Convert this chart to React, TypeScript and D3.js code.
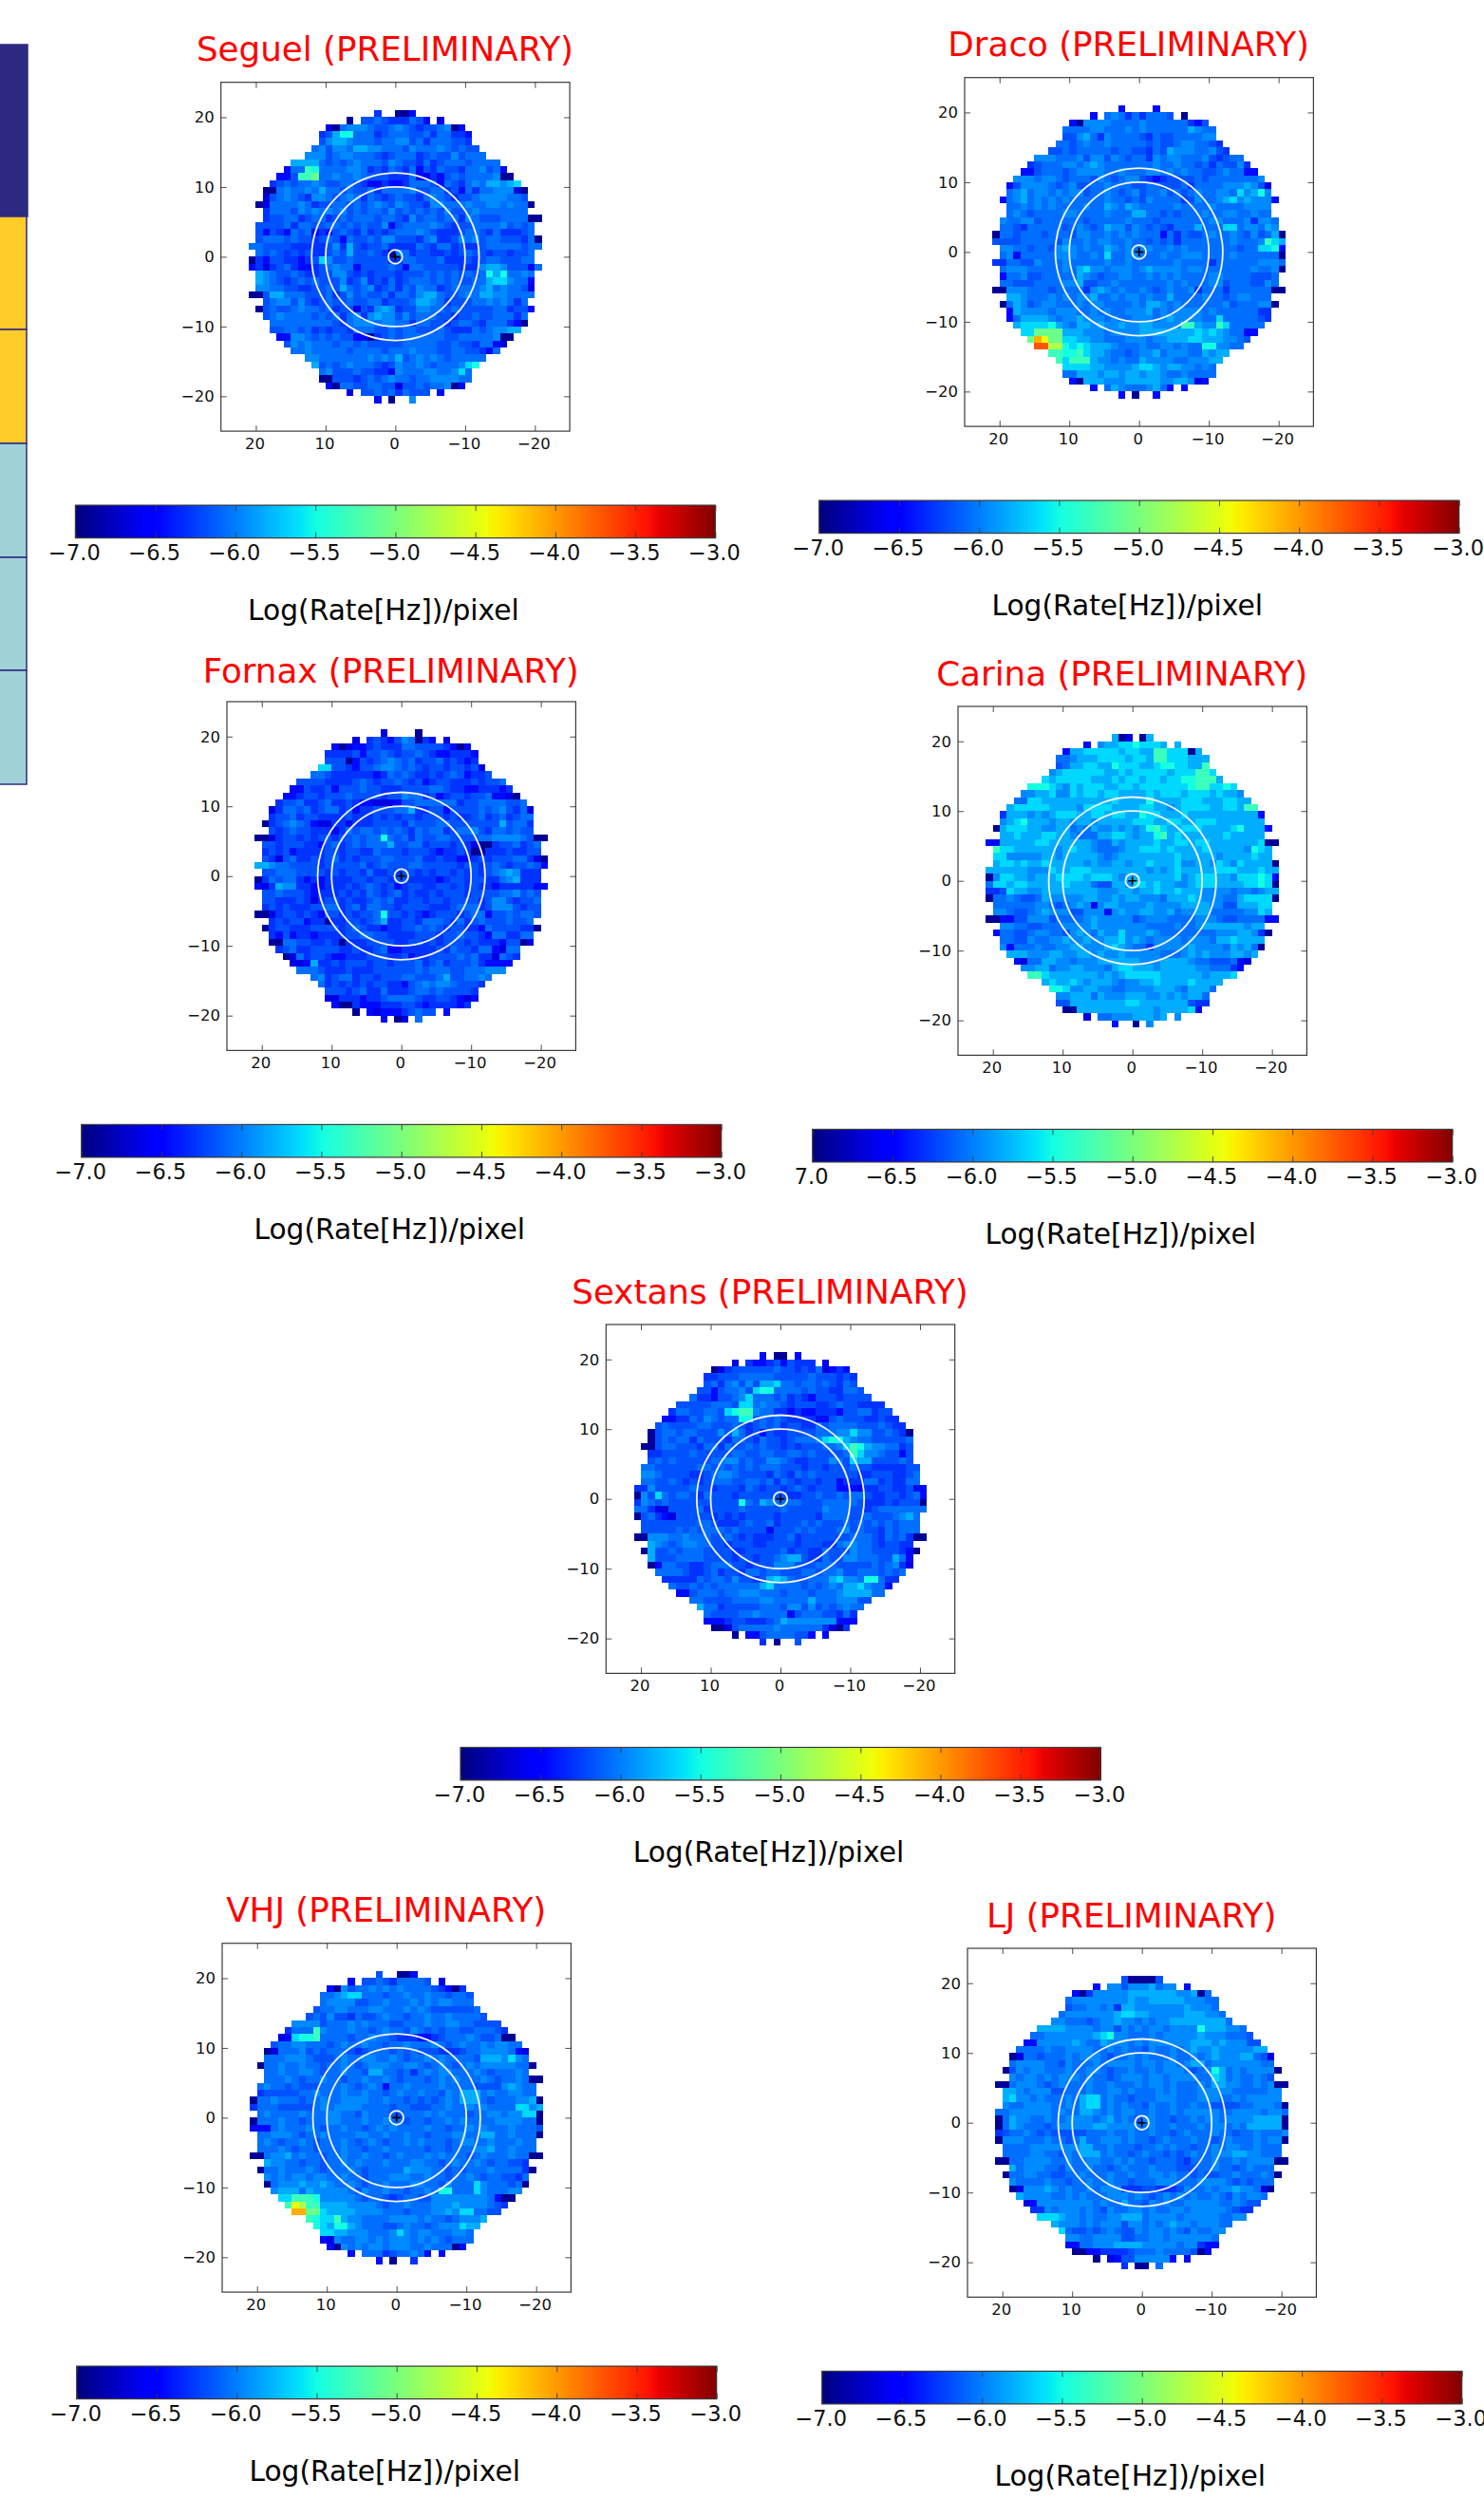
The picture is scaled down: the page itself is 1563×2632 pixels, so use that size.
import { useEffect, useRef } from 'react';
import * as d3 from 'd3';

// cell levels, one char per 1x1 degree cell, '.' = no data
// rows run from y=+21 down, columns from x=+21 to x=-21
const levelKeys = '0123456789abcdef';
const levelValues = [-6.92, -6.65, -6.46, -6.3, -6.18, -6.07, -5.96, -5.82, -5.65, -5.5, -5.32, -5.08, -4.75, -4.45, -4.1, -3.72];

const seguelRows = [
  '...... ...... ...... 3..002 ...... ...... ......',
  '...... ...... ..0.44 543335 42.1.. ...... ......',
  '...... .....1 056665 445654 344560 2..... ......',
  '...... ....34 799555 345554 453553 32.... ......',
  '...... ....46 776555 455664 535554 43.... ......',
  '...... ...564 665776 655546 555654 544... ......',
  '...... ..6664 566555 434555 345446 4555.. ......',
  '...... 777754 545655 546544 353455 545555 ......',
  '.....2 55a955 556653 435435 243544 355645 2.....',
  '....22 4aab55 655654 443335 213245 455556 00....',
  '...345 455654 455432 232235 554254 356577 678...',
  '..0056 556575 545445 355556 445534 253556 6610..',
  '..1456 543665 456535 434544 356543 445666 6554..',
  '.01555 565344 554545 654654 436655 565566 56550.',
  '..3555 465656 564545 546454 545464 456555 5555..',
  '..3445 534553 454555 455436 455455 365444 555500',
  '.44445 355445 545454 462455 556543 445555 64545.',
  '.42432 545232 454353 434555 654333 455435 33345.',
  '.45554 544345 425445 466444 356334 656455 444350',
  '554444 333334 637434 453333 543553 433455 555455',
  '.54543 434334 547445 430653 443343 454434 43445.',
  '032443 323486 445444 443355 444533 343455 44455.',
  '231345 322345 655244 445425 544444 333677 644425',
  '.76544 543344 664343 444344 454545 454597 95565.',
  '.76543 454544 463463 435345 554545 445578 86552.',
  '.66554 433445 475456 345354 655345 555675 65541.',
  '004775 554445 346454 453554 677544 565776 65555.',
  '..4566 464345 445445 534445 776534 445565 6535..',
  '.04544 565545 344143 676344 665545 444445 53442.',
  '..4565 555454 535636 766464 555443 445445 5535..',
  '...555 555555 435666 566553 554434 554355 5320..',
  '...445 545343 443555 445455 444543 335456 677...',
  '....22 665454 544220 345455 555544 555556 00....',
  '.....4 656555 455454 444455 555445 443552 1.....',
  '...... 556555 554555 545556 555445 544325 ......',
  '...... ..6655 555556 565745 656545 5555.. ......',
  '...... ...745 456555 434655 654555 689... ......',
  '...... ....56 444544 332655 566556 85.... ......',
  '...... ....00 444345 456554 556666 55.... ......',
  '...... .....2 055445 544144 545560 2..... ......',
  '...... ...... ..1.44 545354 44.2.. ...... ......',
  '...... ...... ...... 2.0..6 ...... ...... ......',
];

const dracoRows = [
  '...... ...... ...... 2....2 ...... ...... ......',
  '...... ...... ..2.56 535355 54.0.. ...... ......',
  '...... .....2 066665 555655 555532 4..... ......',
  '...... ....55 556655 565655 555576 55.... ......',
  '...... ....44 675365 555435 445555 66.... ......',
  '...... ...554 565565 555545 445665 543... ......',
  '...... ..4454 555554 554435 476665 5643.. ......',
  '...... 666555 646646 545536 566555 643455 ......',
  '.....3 455566 567655 555556 556554 535446 3.....',
  '....22 455545 666655 655566 565655 445655 22....',
  '...666 566545 554654 566432 344445 455555 556...',
  '..2466 665456 445565 554455 444535 555666 7641..',
  '..5675 665656 645565 456455 645456 556658 6796..',
  '.25675 656565 555565 545465 555346 556786 76662.',
  '..5565 656555 565576 576555 556555 565555 6666..',
  '..5654 555566 555565 557755 454555 655665 5655..',
  '.65566 455555 545555 565554 555555 566555 63665.',
  '.55435 555545 654576 646545 435557 555885 66576.',
  '055455 545554 665565 656555 253544 565565 464570',
  '444455 555465 565665 565545 453555 555565 556a87',
  '.66554 554676 565576 565665 565655 555554 558892',
  '.56255 555666 556585 566555 655666 555565 555550',
  '335544 655565 555565 565555 556555 535555 556665',
  '.56665 555565 786656 665676 666566 555555 565560',
  '.25564 455555 765455 665565 656555 566555 54445.',
  '.55444 555566 744556 555555 565655 566455 54465.',
  '006665 554555 536765 655654 565563 555355 555500',
  '..7765 556565 667556 566565 575555 655456 6555..',
  '.05764 566555 656655 556577 656555 555645 55660.',
  '..2766 665666 556565 566675 656666 565555 5533..',
  '..2577 776566 766656 556665 676666 558555 5543..',
  '...788 889765 776766 766776 666aa7 66a855 555...',
  '....88 bbbb77 766656 666777 777778 787655 22....',
  '.....b edbb88 776655 566656 677788 777665 4.....',
  '...... ffcc98 987776 555655 665655 996655 ......',
  '...... ..aa99 a87765 545667 566655 7677.. ......',
  '...... ...a8a aa7665 655766 665566 677... ......',
  '...... ....88 887766 667887 677665 65.... ......',
  '...... ....55 777677 677677 655655 55.... ......',
  '...... .....2 077766 677777 667761 2..... ......',
  '...... ...... ..2.57 655567 52.2.. ...... ......',
  '...... ...... ...... 2.0..2 ...... ...... ......',
];

const fornaxRows = [
  '...... ...... ...... 1....0 ...... ...... ......',
  '...... ...... ..1.34 324650 32.1.. ...... ......',
  '...... .....2 012234 333554 444320 2..... ......',
  '...... ....33 334244 543445 432233 32.... ......',
  '...... ....44 402434 565453 445343 23.... ......',
  '...... ...884 432445 665454 344344 341... ......',
  '...... ..5543 333332 354543 343454 2334.. ......',
  '...... 444433 334543 445434 234433 343445 ......',
  '.....2 243342 444544 333444 455433 223332 3.....',
  '....22 344344 454444 344655 342344 344522 10....',
  '...344 533453 343221 112445 555553 445555 445...',
  '..1355 453455 342334 445573 344244 445456 4351..',
  '..3445 344333 343334 343443 444343 345345 3455..',
  '.03456 542113 323334 444354 445544 444447 4553..',
  '..4345 443332 354554 545435 455345 564355 4544..',
  '001344 343443 445455 954535 445544 445566 665400',
  '.44344 433245 345455 574455 344434 310034 45345.',
  '.34342 333344 344335 444344 432334 300333 43344.',
  '.43145 334345 343444 554445 334332 234344 455310',
  '776554 444344 444534 544455 444443 443454 344542',
  '.44555 444434 344353 343443 434434 343456 76333.',
  '035455 323233 334434 434433 332344 344335 67333.',
  '213766 332233 343454 342344 334434 343323 333322',
  '.44544 432333 434354 345343 343444 344445 56454.',
  '.44333 431344 343345 453344 344344 443466 43445.',
  '.34343 334455 345355 443444 433345 553466 64344.',
  '001344 343244 343445 944343 234443 455244 54554.',
  '..3434 423303 344345 733443 555435 345444 5445..',
  '.03443 334444 345433 233445 454344 332544 44330.',
  '..3242 332333 344554 433334 443445 443255 3355..',
  '..0055 443343 033344 443344 343444 343332 4401..',
  '...345 334444 334334 522333 334354 435521 55....',
  '....01 534432 233344 433423 344445 453315 43....',
  '.....1 127334 344434 434445 345344 453222 2.....',
  '...... 555433 343334 444445 455544 555666 ......',
  '...... ..5634 553443 444554 445744 5565.. ......',
  '...... ...534 343434 433245 656654 443... ......',
  '...... ....44 434533 533345 545444 43.... ......',
  '...... ....11 333233 455554 334432 12.... ......',
  '...... .....2 003222 333443 233332 3..... ......',
  '...... ...... ..0.21 222345 44.2.. ...... ......',
  '...... ...... ...... 2.01.5 ...... ...... ......',
];

const carinaRows = [
  '...... ...... ...... 701.07 ...... ...... ......',
  '...... ...... ..2.67 788988 87.7.. ...... ......',
  '...... .....2 778888 878877 aa8880 7..... ......',
  '...... ....55 677788 887887 aa8887 77.... ......',
  '...... ....45 778877 988877 899887 7a.... ......',
  '...... ...678 888887 787888 887888 aa8... ......',
  '...... ..8788 888777 878878 878899 aaa7.. ......',
  '...... 999876 878887 788788 888889 aa8898 ......',
  '.....6 677866 878878 877778 788878 887877 6.....',
  '....55 887777 777777 877779 777788 877788 77....',
  '...788 888777 768888 777788 776788 887788 7aa...',
  '..3777 676788 877887 887798 877787 777777 7772..',
  '..6789 777677 677677 777888 778877 888777 7777..',
  '.07888 776677 565766 767679 a87788 877778 97772.',
  '..7787 778877 655577 887677 9a7877 777787 7777..',
  '227777 788777 777655 767777 877887 887777 777800',
  '.a8877 777767 877655 567788 878777 787777 76987.',
  '.88666 667767 777765 677777 777877 777677 77877.',
  '.78878 778777 776766 776778 777866 776876 877770',
  '777777 666877 888777 777776 767877 777888 777877',
  '068877 677788 887888 767777 777867 888776 888982',
  '588788 777778 777544 776887 877667 888777 788980',
  '334877 667777 777766 677677 877877 766665 665677',
  '055654 457666 667766 767766 657778 766655 788880',
  '.55555 566545 676267 766667 666677 776644 77788.',
  '.66544 567666 446662 676677 667566 775555 56687.',
  '002244 666455 556766 666456 665555 666544 555522',
  '..6655 445556 666766 666665 555655 677777 7677..',
  '.25544 566554 676576 686667 655555 555666 77630.',
  '..5544 655667 667667 786765 666656 665778 7777..',
  '..6255 565566 776667 876553 666667 666657 6750..',
  '...777 666776 677676 676666 655567 676667 767...',
  '....21 557766 566677 777766 677776 554445 21....',
  '.....6 677566 776665 788777 677777 665553 2.....',
  '...... aa8777 777767 678888 877777 767778 ......',
  '...... ..7877 876777 656677 877778 7777.. ......',
  '...... ...998 667766 556666 777657 775... ......',
  '...... ....66 777576 667776 676767 75.... ......',
  '...... ....44 777777 778877 777774 33.... ......',
  '...... .....0 077777 777777 677778 2..... ......',
  '...... ...... ..1.55 666777 67.6.. ...... ......',
  '...... ...... ...... 2..0.6 ...... ...... ......',
];

const sextansRows = [
  '...... ...... ...... 2.00.2 ...... ...... ......',
  '...... ...... ..1.32 234243 33.1.. ...... ......',
  '...... .....0 134444 445443 435123 2..... ......',
  '...... ....33 444555 554444 454443 43.... ......',
  '...... ....45 356464 778554 554543 54.... ......',
  '...... ...442 455648 995555 454433 554... ......',
  '...... ..5332 445685 554534 324443 4444.. ......',
  '...... 444445 554885 655434 443345 443333 ......',
  '.....3 554455 489aa6 553323 223332 445534 4.....',
  '....22 335465 455994 545433 332245 444334 33....',
  '...454 444554 445434 545344 335455 554445 433...',
  '..0455 455444 647534 243344 445556 686644 5430..',
  '..0454 553544 435543 544345 556899 765544 4445..',
  '.00455 444355 354454 544343 444556 8a9766 5534..',
  '..3344 445444 445544 554455 454444 5a8665 4424..',
  '..4545 444445 566454 466543 344465 487744 4454..',
  '.55444 444554 545454 555444 344344 454433 33344.',
  '.66544 443345 665444 435435 454444 443344 43345.',
  '.55445 434345 554455 453543 443442 333553 43355.',
  '336444 445443 444354 344345 434442 221334 433422',
  '064854 554354 443444 444433 445445 455433 443452',
  '365454 444444 444954 765555 444555 554333 434440',
  '553114 444534 444544 444544 444655 544345 555555',
  '045321 444443 434344 443444 443555 544544 45675.',
  '.44444 444554 333454 453444 545444 545454 54555.',
  '.44444 545455 545444 424445 454445 645443 54555.',
  '006665 565554 454343 334453 444444 455543 545300',
  '..7654 566554 434443 344443 444335 665543 4433..',
  '.07445 455544 443344 444534 433544 465544 44320.',
  '..7444 555544 443443 445677 433544 665554 4752..',
  '..0255 443345 554434 446664 445554 444454 5631..',
  '...555 543345 344355 455444 554556 445554 545...',
  '....33 333545 546443 478754 455578 665995 33....',
  '.....5 445454 555555 785555 454565 778655 2.....',
  '...... 224555 455666 555455 545556 777755 ......',
  '...... ..5544 445555 665555 575556 6644.. ......',
  '...... ...755 344444 555466 464545 655... ......',
  '...... ....54 444556 555524 555443 53.... ......',
  '...... ....22 234433 345766 666662 22.... ......',
  '...... .....0 014555 556555 555310 3..... ......',
  '...... ...... ..0.22 455554 42.2.. ...... ......',
  '...... ...... ...... 3.0..4 ...... ...... ......',
];

const vhjRows = [
  '...... ...... ...... 4..002 ...... ...... ......',
  '...... ...... ..2.44 543555 54.1.. ...... ......',
  '...... .....2 064556 565655 554320 3..... ......',
  '...... ....55 678855 545565 565545 54.... ......',
  '...... ....56 666445 565556 565665 55.... ......',
  '...... ...455 665556 655565 654444 445... ......',
  '...... ..4546 443544 565545 565565 5554.. ......',
  '...... 666645 556565 554455 565566 554444 ......',
  '.....3 555a65 556554 565546 545455 445554 3.....',
  '....12 899a55 554556 554333 223455 565445 00....',
  '...455 665554 565565 545565 556545 655656 655...',
  '..0155 564545 554345 554545 444333 455666 6521..',
  '..5556 665444 565566 556545 565655 554777 6865..',
  '.05565 565545 565456 665566 545654 565666 66550.',
  '..5565 566545 565547 755453 565665 556545 5565..',
  '..5556 545565 545565 565455 545656 555654 556500',
  '.56554 544455 565456 525565 555655 554444 67655.',
  '.34444 455655 565565 545655 655465 777565 56655.',
  '055655 545565 566665 565545 454565 777545 556670',
  '355544 444565 666655 554554 445565 565655 558867',
  '.56555 565556 655465 554455 565655 545566 566880',
  '055565 545556 655565 565545 545565 655556 666550',
  '222565 556545 565545 656555 565545 565655 565554',
  '.55666 545565 555665 565565 545556 655775 565550',
  '.56545 565455 565456 545565 655545 665565 55655.',
  '.55565 455455 565545 565555 545545 556675 56555.',
  '005667 565545 565565 545655 565655 545655 565500',
  '..7665 545545 565655 565556 655456 556545 5443..',
  '.05565 556545 556545 555576 665545 455565 55530.',
  '..6565 665665 565545 556665 565545 565455 4435..',
  '..0566 676676 556545 565556 655465 558655 5450..',
  '...677 757666 665465 565545 565995 558655 566...',
  '....88 aaa966 666545 543455 446666 666652 00....',
  '.....a dcaa77 776666 545565 556667 666654 3.....',
  '...... eebb87 777666 655545 556676 885544 ......',
  '...... ..a988 a76655 556666 565545 6667.. ......',
  '...... ...987 997655 544565 545666 877... ......',
  '...... ....88 776665 556865 665556 65.... ......',
  '...... ....21 655665 656665 656545 55.... ......',
  '...... .....2 065656 656665 565550 2..... ......',
  '...... ...... ..2.55 534556 52.2.. ...... ......',
  '...... ...... ...... 2.0..3 ...... ...... ......',
];

const ljRows = [
  '...... ...... ...... 400004 ...... ...... ......',
  '...... ...... ..2.66 466675 66.2.. ...... ......',
  '...... .....2 036666 677777 776670 5..... ......',
  '...... ....56 666666 676677 777666 55.... ......',
  '...... ....45 566563 776666 666766 65.... ......',
  '...... ...566 666667 887766 666777 665... ......',
  '...... ..6655 545667 665656 677777 7775.. ......',
  '...... 777766 665664 656566 566669 777665 ......',
  '.....5 566666 667896 655565 666667 666555 4.....',
  '....22 666667 655766 656566 666677 767666 44....',
  '...555 565566 665565 655465 565676 676666 677...',
  '..0155 455565 666545 565655 565565 676667 7541..',
  '..5666 655465 556566 665665 665677 566666 6655..',
  '.04656 655565 566545 565565 666545 697565 66660.',
  '..6566 565666 565545 666566 566665 587565 5654..',
  '005666 545655 565565 556566 565556 577665 565600',
  '.77656 664455 565566 565556 565556 666655 55566.',
  '.78665 655565 788565 545556 665556 665565 66666.',
  '.65566 665565 788565 655465 565565 544445 566650',
  '556666 665655 776565 665565 565666 665566 665665',
  '057665 565566 665675 654665 545565 665666 677770',
  '057655 545666 667766 665565 565556 566565 777770',
  '345565 454444 455565 565565 545655 565545 565556',
  '066655 565545 755666 565545 655565 545655 565660',
  '.55556 666666 775565 554556 565545 565665 56555.',
  '.55556 655465 777565 545655 454565 566677 66555.',
  '005566 665565 566556 565545 554355 565565 666600',
  '..7566 655465 565545 655565 554445 565545 6555..',
  '.05566 554455 655565 565566 565545 445565 55650.',
  '..6555 565545 565565 545556 665556 666545 4555..',
  '..0166 676565 565666 333443 334655 656676 6510..',
  '...766 665565 655566 656545 656565 565465 665...',
  '....12 666666 665655 755465 655666 665565 44....',
  '.....3 365666 565465 566565 566566 666543 3.....',
  '...... 888766 565566 777566 665666 665566 ......',
  '...... ..7666 565666 466565 676656 6655.. ......',
  '...... ...854 454565 446566 565465 566... ......',
  '...... ....66 556666 445566 566666 65.... ......',
  '...... ....22 556667 777666 665663 22.... ......',
  '...... .....0 022333 345556 555540 2..... ......',
  '...... ...... ..0.12 446666 62.2.. ...... ......',
  '...... ...... ...... 3.00.5 ...... ...... ......',
];

const panelNames = ['Seguel', 'Draco', 'Fornax', 'Carina', 'Sextans', 'VHJ', 'LJ'];
const panelRows = [seguelRows, dracoRows, fornaxRows, carinaRows, sextansRows, vhjRows, ljRows];
const panelLeft = [232.7, 1016, 239, 1009, 638.3, 234, 1019];
const panelTop = [86.7, 81.7, 739, 744, 1395, 2046.7, 2052];
const titleDrop = [0, 0, 2, 0, 0, 0, 0];

const axisTicks = [20, 10, 0, -10, -20];
const ringRadii = [12, 10, 1];
const colorTicks = [-7, -6.5, -6, -5.5, -5, -4.5, -4, -3.5, -3];

// the cropped table at the left edge of the slide
const sideBoxEdges = [47, 228, 347, 467, 587, 706, 826];
const sideBoxColors = ['#2e2a82', '#ffcc29', '#ffcc29', '#a0d2d8', '#a0d2d8', '#a0d2d8'];

// matplotlib jet
const jetR = d3.scaleLinear().domain([0, 0.35, 0.66, 0.89, 1]).range([0, 0, 1, 1, 0.5]);
const jetG = d3.scaleLinear().domain([0, 0.125, 0.375, 0.64, 0.91, 1]).range([0, 0, 1, 1, 0, 0]);
const jetB = d3.scaleLinear().domain([0, 0.11, 0.34, 0.65, 1]).range([0.5, 1, 1, 0, 0]);
const norm = d3.scaleLinear().domain([-7, -3]).range([0, 1]).clamp(true);
const jet = (v: number) => {
  const t = norm(v);
  return d3.rgb(jetR(t) * 255, jetG(t) * 255, jetB(t) * 255).formatHex();
};

const SIZE = 367.4;
const BAR_W = 674;
const BAR_H = 34.5;
const FRAME = '#3a3a3a';
const FONT = '"DejaVu Sans", sans-serif';

export default function App() {
  const ref = useRef<SVGSVGElement>(null);

  useEffect(() => {
    const svg = d3.select(ref.current);
    svg.selectAll('*').remove();
    svg.style('font-family', FONT);

    svg.append('g').selectAll('rect')
      .data(sideBoxColors)
      .enter().append('rect')
      .attr('x', -3)
      .attr('y', (d, i) => sideBoxEdges[i])
      .attr('width', (d, i) => (i === 0 ? 32 : 31))
      .attr('height', (d, i) => sideBoxEdges[i + 1] - sideBoxEdges[i])
      .attr('fill', d => d)
      .attr('stroke', '#2e2a82')
      .attr('stroke-width', 1.5);

    const x = d3.scaleLinear().domain([25, -25]).range([0, SIZE]);
    const y = d3.scaleLinear().domain([25, -25]).range([0, SIZE]);
    const cellSize = x(0) - x(1);

    panelNames.forEach((name, p) => {
      const g = svg.append('g').attr('transform', `translate(${panelLeft[p]},${panelTop[p]})`);

      g.append('text')
        .attr('x', SIZE / 2 - 11)
        .attr('y', -22.5 + titleDrop[p])
        .attr('text-anchor', 'middle')
        .attr('font-size', 35.7)
        .attr('fill', 'red')
        .text(`${name} (PRELIMINARY)`);

      const cells: { col: number; row: number; v: number }[] = [];
      panelRows[p].forEach((line, row) => {
        line.replace(/ /g, '').split('').forEach((c, col) => {
          if (c !== '.') cells.push({ col, row, v: levelValues[levelKeys.indexOf(c)] });
        });
      });

      g.append('g').selectAll('rect')
        .data(cells)
        .enter().append('rect')
        .attr('x', d => x(21 - d.col))
        .attr('y', d => y(21 - d.row))
        .attr('width', cellSize)
        .attr('height', cellSize)
        .attr('shape-rendering', 'crispEdges')
        .attr('fill', d => jet(d.v));

      g.append('g').selectAll('circle')
        .data(ringRadii)
        .enter().append('circle')
        .attr('cx', x(0))
        .attr('cy', y(0))
        .attr('r', d => x(0) - x(d))
        .attr('fill', 'none')
        .attr('stroke', '#f4f6fc')
        .attr('stroke-width', 1.8);

      g.append('path')
        .attr('d', d3.line()([[x(0.62), y(0)], [x(-0.62), y(0)]]) + d3.line()([[x(0), y(0.62)], [x(0), y(-0.62)]]))
        .attr('stroke', '#000')
        .attr('stroke-width', 1.6);

      const fmt = (d: number) => d3.format('d')(d);
      const styleAxis = (a: any) => {
        a.select('.domain').remove();
        a.selectAll('.tick line').attr('stroke', FRAME).attr('stroke-width', 0.9);
        a.selectAll('text').attr('fill', '#111').attr('font-size', 16.5).attr('font-family', FONT);
      };
      g.append('g').attr('transform', `translate(0,${SIZE})`)
        .call(d3.axisBottom(x).tickValues(axisTicks).tickFormat(fmt).tickSize(-6).tickPadding(7)).call(styleAxis)
        .selectAll('text').attr('dx', -1.5);
      g.append('g')
        .call(d3.axisLeft(y).tickValues(axisTicks).tickFormat(fmt).tickSize(-6).tickPadding(7)).call(styleAxis);
      g.append('g')
        .call(d3.axisTop(x).tickValues(axisTicks).tickFormat(() => '').tickSize(-6)).call(styleAxis);
      g.append('g').attr('transform', `translate(${SIZE},0)`)
        .call(d3.axisRight(y).tickValues(axisTicks).tickFormat(() => '').tickSize(-6)).call(styleAxis);

      g.append('rect')
        .attr('width', SIZE)
        .attr('height', SIZE)
        .attr('fill', 'none')
        .attr('stroke', FRAME)
        .attr('stroke-width', 1.2);

      // colour bar under the panel
      const bar = g.append('g').attr('transform', `translate(${SIZE / 2 - BAR_W / 2},${SIZE + 78})`);
      const c = d3.scaleLinear().domain([-7, -3]).range([0, BAR_W]);
      const steps = d3.range(256).map(i => -7 + (i * 4) / 256);
      bar.append('g').selectAll('rect')
        .data(steps)
        .enter().append('rect')
        .attr('x', d => c(d))
        .attr('width', BAR_W / 256 + 0.6)
        .attr('height', BAR_H)
        .attr('shape-rendering', 'crispEdges')
        .attr('fill', d => jet(d));

      const barLabel = (d: number) => {
        const s = d3.format('.1f')(d);
        // the minus of the first label is cut off in the Carina panel
        return name === 'Carina' && d === -7 ? s.slice(1) : s;
      };
      const barAxis = bar.append('g').attr('transform', `translate(0,${BAR_H})`)
        .call(d3.axisBottom(c).tickValues(colorTicks).tickFormat(barLabel).tickSize(-6).tickPadding(7.5));
      barAxis.select('.domain').remove();
      barAxis.selectAll('.tick line').attr('stroke', FRAME).attr('stroke-width', 0.9);
      barAxis.selectAll('text')
        .attr('fill', '#111')
        .attr('font-size', 22.5)
        .attr('font-family', FONT)
        .attr('dx', -1.5);
      bar.append('g')
        .call(d3.axisTop(c).tickValues(colorTicks).tickFormat(() => '').tickSize(-6))
        .call((a: any) => {
          a.select('.domain').remove();
          a.selectAll('.tick line').attr('stroke', FRAME).attr('stroke-width', 0.9);
        });
      bar.append('rect')
        .attr('width', BAR_W)
        .attr('height', BAR_H)
        .attr('fill', 'none')
        .attr('stroke', FRAME)
        .attr('stroke-width', 1.2);

      bar.append('text')
        .attr('x', BAR_W / 2 - 12.5)
        .attr('y', BAR_H + 86)
        .attr('text-anchor', 'middle')
        .attr('font-size', 29.7)
        .attr('fill', '#000')
        .text('Log(Rate[Hz])/pixel');
    });
  }, []);

  return (
    <svg
      ref={ref}
      width={1563}
      height={2632}
      style={{ position: 'absolute', left: 0, top: 0, background: '#fff' }}
    />
  );
}
